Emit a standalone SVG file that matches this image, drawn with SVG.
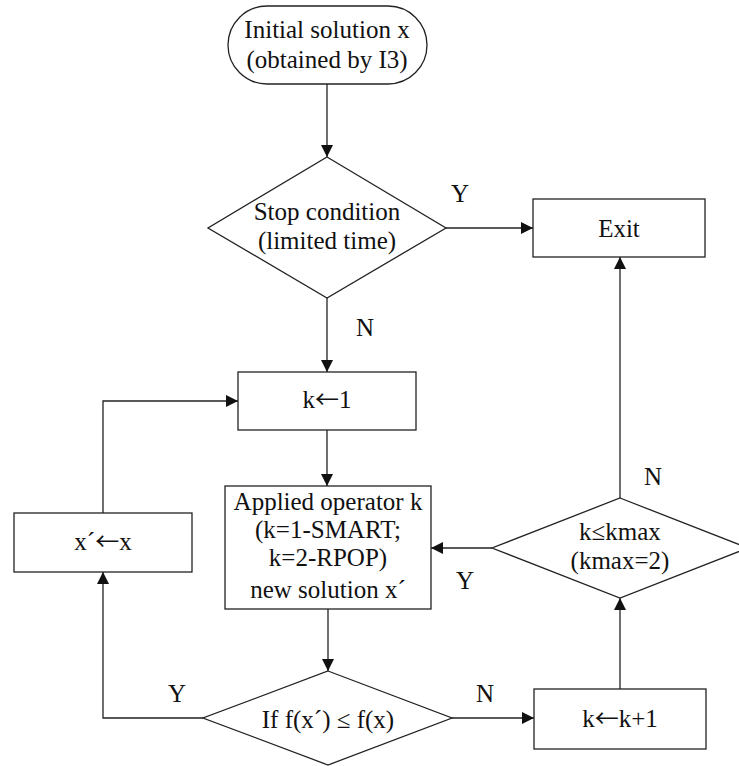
<svg xmlns="http://www.w3.org/2000/svg" width="739" height="766" viewBox="0 0 739 766">
<style>
.s{fill:#fff;stroke:#222;stroke-width:1.3}
.c{fill:none;stroke:#222;stroke-width:1.3}
text{font-family:"Liberation Serif","Times New Roman",serif;font-size:25px;fill:#111;text-anchor:middle}
.ar{font-family:"Noto Sans CJK SC","DejaVu Sans",sans-serif;font-size:24px}
</style>
<defs>
<marker id="a" viewBox="0 0 12 12" refX="12" refY="6" markerWidth="12" markerHeight="12" markerUnits="userSpaceOnUse" orient="auto">
<path d="M0,0 L12,6 L0,12 Z" fill="#111"/>
</marker>
</defs>
<rect width="739" height="766" fill="#fff"/>
<g id="connectors">
<path class="c" d="M327,84 V157" marker-end="url(#a)"/>
<path class="c" d="M446,228 H533" marker-end="url(#a)"/>
<path class="c" d="M327,298 V372" marker-end="url(#a)"/>
<path class="c" d="M327,430 V486" marker-end="url(#a)"/>
<path class="c" d="M103,513 V401 H238" marker-end="url(#a)"/>
<path class="c" d="M328,609 V671" marker-end="url(#a)"/>
<path class="c" d="M203,718 H103 V572" marker-end="url(#a)"/>
<path class="c" d="M452,718 H534" marker-end="url(#a)"/>
<path class="c" d="M620,689 V598" marker-end="url(#a)"/>
<path class="c" d="M620,498 V257" marker-end="url(#a)"/>
<path class="c" d="M492,548 H431" marker-end="url(#a)"/>
<text x="460" y="202">Y</text>
<text x="365" y="336">N</text>
<text x="653" y="485">N</text>
<text x="465" y="589">Y</text>
<text x="177" y="702">Y</text>
<text x="485" y="702">N</text>
</g>
<g id="start">
<rect class="s" x="228" y="6" width="199" height="78" rx="39" ry="39"/>
<text x="327" y="38">Initial solution x</text>
<text x="327" y="68">(obtained by I3)</text>
</g>
<g id="stop">
<path class="s" d="M327,157 L446,228 L327,298 L208,228 Z"/>
<text x="327" y="220">Stop condition</text>
<text x="327" y="249">(limited time)</text>
</g>
<g id="exit">
<rect class="s" x="533" y="199" width="172" height="58"/>
<text x="619" y="237">Exit</text>
</g>
<g id="k1">
<rect class="s" x="238" y="372" width="178" height="58"/>
<text x="327" y="408">k<tspan class="ar">←</tspan>1</text>
</g>
<g id="apply">
<rect class="s" x="225" y="486" width="206" height="123"/>
<text x="328" y="510">Applied operator k</text>
<text x="328" y="538">(k=1-SMART;</text>
<text x="328" y="566">k=2-RPOP)</text>
<text x="328" y="598">new solution x´</text>
</g>
<g id="swap">
<rect class="s" x="14" y="513" width="178" height="59"/>
<text x="103" y="550">x´<tspan class="ar">←</tspan>x</text>
</g>
<g id="compare">
<path class="s" d="M328,671 L452,718 L328,765 L203,718 Z"/>
<text x="328" y="728">If f(x´) ≤ f(x)</text>
</g>
<g id="kinc">
<rect class="s" x="534" y="689" width="172" height="60"/>
<text x="620" y="727">k<tspan class="ar">←</tspan>k+1</text>
</g>
<g id="kmax">
<path class="s" d="M620,498 L748,548 L620,598 L492,548 Z"/>
<text x="620" y="540">k≤kmax</text>
<text x="620" y="569">(kmax=2)</text>
</g>
</svg>
